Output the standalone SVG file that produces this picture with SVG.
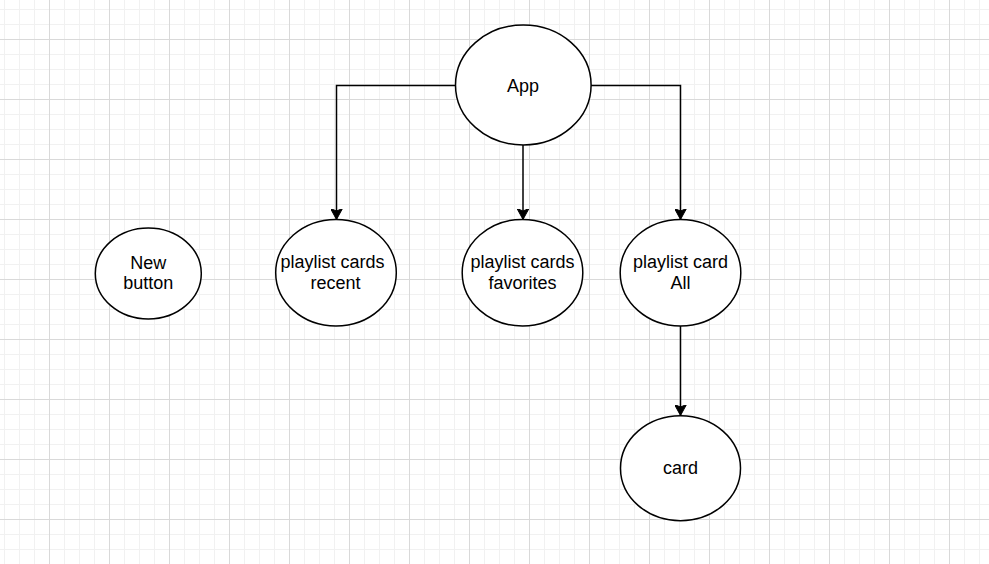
<svg xmlns="http://www.w3.org/2000/svg" width="989" height="564" viewBox="0 0 989 564">
  <defs>
    <pattern id="grid" patternUnits="userSpaceOnUse" x="49" y="39" width="60" height="60">
      <path d="M15.5,0V60M30.5,0V60M45.5,0V60M0,15.5H60M0,30.5H60M0,45.5H60" stroke="#f1f1f1" stroke-width="1" fill="none"/>
      <path d="M0.5,0V60M0,0.5H60" stroke="#d9d9d9" stroke-width="1" fill="none"/>
    </pattern>
    <marker id="arrow" viewBox="0 0 11 12" markerWidth="11" markerHeight="12" refX="11" refY="6" orient="auto" markerUnits="userSpaceOnUse">
      <path d="M0,0 L11,6 L0,12 L2.5,6 Z" fill="#000" stroke="#000" stroke-width="1" stroke-linejoin="miter"/>
    </marker>
    <style>
      .node ellipse { fill: #fff; stroke: #000; stroke-width: 1.5; }
      .node text { font-family: "Liberation Sans", Arial, sans-serif; font-size: 18px; fill: #000; text-anchor: middle; }
      .edge { fill: none; stroke: #000; stroke-width: 1.5; marker-end: url(#arrow); }
    </style>
  </defs>
  <rect width="989" height="564" fill="#fff"/>
  <rect width="989" height="564" fill="url(#grid)"/>

  <g id="connectors">
    <path class="edge" d="M455.5,85.5 H336.5 V219.5"/>
    <path class="edge" d="M523,145 V219.5"/>
    <path class="edge" d="M591,85.5 H680.5 V219.5"/>
    <path class="edge" d="M680.5,326 V415.5"/>
  </g>

  <g id="node-app" class="node">
    <ellipse cx="523.3" cy="85" rx="67.8" ry="60"/>
    <text x="523" y="91.5">App</text>
  </g>
  <g id="node-new-button" class="node">
    <ellipse cx="148.3" cy="273.5" rx="53" ry="45.5"/>
    <text x="148.3" y="268.5">New</text>
    <text x="148.3" y="289.3">button</text>
  </g>
  <g id="node-recent" class="node">
    <ellipse cx="336" cy="272.7" rx="60.3" ry="53.3"/>
    <text x="332.5" y="267.8">playlist cards</text>
    <text x="335.5" y="288.6">recent</text>
  </g>
  <g id="node-favorites" class="node">
    <ellipse cx="522.5" cy="272.7" rx="60.3" ry="53.3"/>
    <text x="522.5" y="267.8">playlist cards</text>
    <text x="522.5" y="288.6">favorites</text>
  </g>
  <g id="node-all" class="node">
    <ellipse cx="680.5" cy="272.7" rx="60.3" ry="53.3"/>
    <text x="680.5" y="267.8">playlist card</text>
    <text x="680.5" y="288.6">All</text>
  </g>
  <g id="node-card" class="node">
    <ellipse cx="680.5" cy="468.2" rx="60" ry="52.5"/>
    <text x="680.5" y="473.5">card</text>
  </g>
</svg>
